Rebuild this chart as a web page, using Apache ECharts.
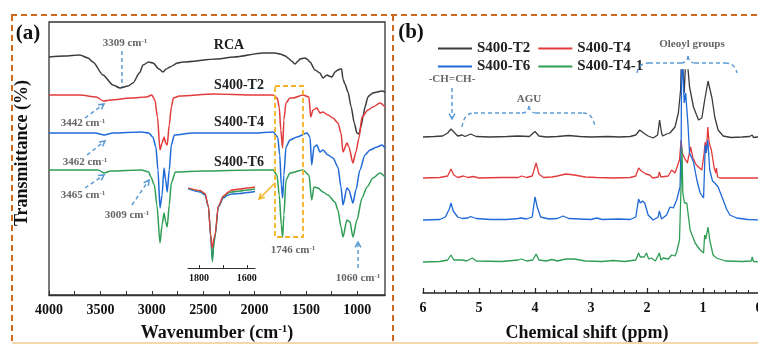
<!DOCTYPE html>
<html lang="en" style="height: 100%">
<head>
<meta charset="utf-8">
<title>FTIR and NMR spectra</title>
</head>
<body style="height: 100%; margin: 0">
<div id="container" style="width: 758px; height: 345px"></div>
<script type="text/javascript" src="https://cdn.jsdelivr.net/npm/echarts/dist/echarts.min.js"></script>
<script type="text/javascript">
// ---- panel (a): FTIR, [wavenumber, offset transmittance] ----
var ftirRCA = [[4000,238],[3850,239],[3700,240],[3620,237],[3572,233],[3475,220],[3377,210],[3309,207],[3230,209],[3183,212],[3120,222],[3085,230],[3030,233],[2988,232],[2930,226],[2891,223],[2860,226],[2823,228],[2750,232],[2696,233],[2366,236],[2200,238],[1918,242],[1800,242],[1753,241],[1700,239],[1675,237],[1640,234],[1607,231],[1575,234],[1558,236],[1510,237],[1490,236],[1461,233],[1412,225],[1364,222],[1335,217],[1296,220],[1276,219],[1247,218],[1218,223],[1189,225],[1165,226],[1153,226],[1140,216],[1121,211],[1091,203],[1060,188],[1030,172],[1004,162],[985,161],[965,168],[945,178],[926,188],[897,198],[877,200],[848,202],[809,203],[760,204],[731,203]];
var ftirT2 = [[4000,200],[3700,200],[3540,198],[3470,194],[3400,195],[3200,197],[3050,198],[3000,200],[2970,195],[2945,178],[2920,145],[2900,152],[2880,158],[2865,152],[2850,150],[2830,170],[2810,188],[2790,197],[2730,199],[2400,201],[2000,200],[1820,200],[1780,197],[1760,188],[1745,165],[1727,147],[1715,175],[1694,192],[1656,197],[1626,197],[1529,200],[1471,198],[1454,178],[1432,185],[1393,187],[1364,182],[1335,183],[1286,180],[1237,177],[1189,172],[1159,162],[1140,143],[1101,152],[1082,148],[1043,132],[1014,143],[984,157],[955,178],[897,185],[848,188],[780,192],[731,188]];
var ftirT4 = [[4000,162],[3550,162],[3462,160],[3380,162],[3100,163],[3030,162],[2990,158],[2960,148],[2940,125],[2920,87],[2900,100],[2881,127],[2865,115],[2850,103],[2830,125],[2810,150],[2780,160],[2600,162],[2000,162],[1820,163],[1775,158],[1755,140],[1740,110],[1727,97],[1715,120],[1694,148],[1656,155],[1587,158],[1490,162],[1461,158],[1444,130],[1422,148],[1393,150],[1364,143],[1335,145],[1286,140],[1237,137],[1189,128],[1159,108],[1140,90],[1101,107],[1082,105],[1043,92],[1014,105],[975,125],[926,140],[877,145],[809,148],[760,150],[731,147]];
var ftirT6 = [[4000,125],[3520,125],[3465,122],[3400,124],[3100,125],[3030,123],[3009,118],[2975,110],[2950,90],[2920,52],[2900,70],[2881,82],[2865,73],[2850,68],[2830,90],[2810,112],[2770,123],[2500,124],[2000,125],[1820,125],[1782,120],[1760,100],[1740,70],[1727,58],[1715,80],[1694,115],[1656,122],[1529,125],[1471,120],[1444,95],[1422,108],[1383,107],[1335,103],[1286,100],[1218,93],[1189,85],[1159,68],[1140,58],[1101,75],[1072,73],[1043,58],[1004,75],[955,97],[906,108],[848,117],[780,122],[731,118]];
var ftirTicks = [1000,1250,1500,1750,2000,2250,2500,2750,3000,3250,3500,3750,4000];
var ftirLabels = [1000,1500,2000,2500,3000,3500,4000];

// inset around 1746 cm-1
var insetT2 = [[1845,80],[1796,77.5],[1775,74.5],[1761,62],[1751,33],[1745,20],[1737,30],[1733,34],[1719,62],[1698,72],[1677,76],[1663,78],[1628,79],[1600,80],[1566,81]];
var insetT4 = [[1845,79],[1796,76],[1775,73],[1761,61],[1751,31],[1745,9],[1737,26],[1733,32],[1719,61],[1698,70],[1677,73],[1663,74],[1628,74.5],[1600,75.5],[1566,76.5]];
var insetT6 = [[1845,80],[1796,77],[1775,74],[1761,62],[1751,32],[1744,6],[1737,25],[1733,32],[1719,62],[1698,71],[1677,75],[1663,76],[1628,77],[1600,78],[1566,79]];
var insetTicks = [1600,1700,1800];
var insetLabels = [1600,1800];

// ---- panel (b): 1H NMR, [ppm, offset intensity] ----
var nmrT2 = [[6.0,156],[5.8,156.5],[5.65,157],[5.56,160],[5.5,164],[5.45,161],[5.38,157],[5.3,158],[5.25,156.5],[5.15,159],[5.05,156.5],[4.8,156],[4.5,156.5],[4.3,157],[4.1,156.5],[4.0,161.5],[3.93,157],[3.8,156],[3.6,156.5],[3.4,157.5],[3.2,156.5],[3.0,156],[2.7,156.5],[2.5,156],[2.3,156.5],[2.2,158],[2.13,163],[2.06,160],[1.98,157],[1.89,155],[1.81,158],[1.775,173],[1.74,160],[1.72,157],[1.65,159],[1.59,160],[1.5,166],[1.44,180],[1.4,203],[1.38,245],[1.36,245],[1.335,200],[1.3,245],[1.28,245],[1.24,206],[1.17,186],[1.08,173],[1.02,175],[0.97,193],[0.91,212],[0.84,195],[0.79,176],[0.73,163],[0.64,157],[0.5,155.5],[0.3,156],[0.17,156.5],[0.12,158],[0.1,155.5],[0.03,156],[0,156]];
var nmrT4 = [[6.0,115],[5.7,115.5],[5.56,117],[5.5,124],[5.45,118],[5.38,115.5],[5.28,117],[5.2,115.5],[5.1,116.5],[5.0,115],[4.6,115.5],[4.3,115.5],[4.24,117],[4.15,115.5],[4.05,117],[3.98,130],[3.93,119],[3.85,115.5],[3.7,116],[3.6,117],[3.45,119],[3.3,118],[3.1,116],[2.9,115.5],[2.6,115],[2.3,115.5],[2.2,117],[2.15,125],[2.1,122],[2.07,121],[2.02,119],[1.95,118],[1.9,115],[1.8,116],[1.78,121],[1.75,116],[1.72,115],[1.62,117],[1.56,123],[1.5,120],[1.47,120],[1.42,133],[1.39,153],[1.37,140],[1.33,135],[1.28,130],[1.22,146],[1.18,135],[1.12,128],[1.06,125],[1.02,123],[0.98,140],[0.96,151],[0.94,140],[0.915,166],[0.89,150],[0.85,143],[0.8,125],[0.77,120],[0.76,125],[0.74,116],[0.7,115],[0.4,115],[0,115]];
var nmrT6 = [[6.0,73],[5.7,73.5],[5.6,76],[5.53,84],[5.5,90],[5.46,82],[5.38,76],[5.3,74.5],[5.2,75],[5.15,76.5],[5.05,74.5],[4.8,73.5],[4.5,73.5],[4.3,74.5],[4.25,75],[4.15,74],[4.05,76],[4.0,96],[3.96,86],[3.9,76],[3.75,74],[3.6,74.5],[3.5,77],[3.4,74.5],[3.2,74],[3.0,73.5],[2.9,75],[2.8,73.5],[2.5,74],[2.3,73.5],[2.2,76],[2.15,94],[2.12,90],[2.08,92],[2.04,90],[1.98,78],[1.89,73],[1.8,76],[1.78,82],[1.74,74],[1.72,73],[1.65,78],[1.59,86],[1.53,85],[1.47,93],[1.41,106],[1.39,150],[1.38,245],[1.36,245],[1.335,190],[1.31,200],[1.27,170],[1.24,140],[1.2,135],[1.17,131],[1.11,113],[1.05,100],[0.99,95],[0.975,120],[0.96,148],[0.945,140],[0.915,153],[0.88,123],[0.83,112],[0.79,110],[0.73,106],[0.64,93],[0.58,84],[0.52,78],[0.4,75],[0.2,73.5],[0,73]];
var nmrT41 = [[6.0,31],[5.7,31.5],[5.56,33],[5.5,38],[5.45,33],[5.3,33],[5.22,32],[5.12,35],[5.05,32],[4.6,31.5],[4.3,33],[4.24,34],[4.15,32],[4.04,33],[3.98,39],[3.93,33],[3.8,32],[3.7,33.5],[3.6,32],[3.45,34],[3.3,34],[3.1,32],[2.8,31.5],[2.6,32.5],[2.4,31.5],[2.2,33],[2.15,40],[2.12,36],[2.1,38],[2.05,36],[2.01,40],[1.97,34],[1.92,35],[1.85,32],[1.78,40],[1.75,33],[1.71,35],[1.62,34],[1.56,38],[1.5,37],[1.47,41],[1.42,53],[1.39,110],[1.375,145],[1.36,100],[1.33,90],[1.31,88],[1.29,90],[1.23,63],[1.14,50],[1.05,43],[0.99,40],[0.97,58],[0.95,54],[0.91,66],[0.88,53],[0.82,38],[0.76,35],[0.6,32],[0.3,31.5],[0.14,32],[0.12,36],[0.1,31.5],[0,31]];

var cBlack = '#3c3c3c', cRed = '#e23b3b', cBlue = '#1f6ad8', cGreen = '#2f9e55';
var cNote = '#5b9bd5', cGray = '#666', cYellow = '#f4b324', cBorder = '#cf6a1e';
var serif = "'Liberation Serif', 'Times New Roman', serif";

var dom = document.getElementById('container');
var myChart = echarts.init(dom);

function txt(x, y, s, size, color, rot) {
    return {
        type: 'text', x: x, y: y, z: 100, rotation: rot || 0,
        style: {
            text: s, fontFamily: serif, fontWeight: 'bold', fontSize: size, fill: color,
            align: 'center', verticalAlign: 'middle',
            rich: { s: { fontFamily: serif, fontWeight: 'bold', fontSize: Math.round(size * 0.62), fill: color, verticalAlign: 'top' } }
        }
    };
}
function seg(x1, y1, x2, y2, color, dash, w) {
    return { type: 'line', z: 90, shape: { x1: x1, y1: y1, x2: x2, y2: y2 },
        style: { stroke: color, lineWidth: w || 1.5, lineDash: dash || null } };
}
function arrow(x1, y1, x2, y2, color, dash) {
    var a = Math.atan2(y2 - y1, x2 - x1), L = 6, s = 0.5;
    var head = { type: 'polyline', z: 90, shape: { points: [
        [x2 - L * Math.cos(a - s), y2 - L * Math.sin(a - s)], [x2, y2],
        [x2 - L * Math.cos(a + s), y2 - L * Math.sin(a + s)]] },
        style: { stroke: color, lineWidth: 1.5, fill: null } };
    return [seg(x1, y1, x2, y2, color, dash), head];
}
// curly bracket drawn as quadratic pieces
function brace(x1, x2, yEnd, yTop, xMid) {
    var st = { stroke: cNote, lineWidth: 1.4, lineDash: [4, 3], fill: null };
    var yLine = yTop + 7;
    function q(a, b, c, d, e, f) {
        return { type: 'bezierCurve', z: 90, shape: { x1: a, y1: b, cpx1: c, cpy1: d, x2: e, y2: f }, style: st };
    }
    return [
        q(x1, yEnd, x1 + 2, yLine, x1 + 12, yLine),
        seg(x1 + 12, yLine, xMid - 7, yLine, cNote, [4, 3], 1.4),
        q(xMid - 7, yLine, xMid - 1, yLine, xMid, yTop),
        q(xMid, yTop, xMid + 1, yLine, xMid + 7, yLine),
        seg(xMid + 7, yLine, x2 - 12, yLine, cNote, [4, 3], 1.4),
        q(x2 - 12, yLine, x2 - 2, yLine, x2, yEnd)
    ];
}

var D = [6, 4];
var graphics = [
    // dashed frames
    seg(11, 15, 758, 15, cBorder, D, 2),
    seg(12, 15, 12, 345, cBorder, D, 2),
    seg(393, 15, 393, 345, cBorder, D, 2),
    seg(12, 343, 758, 343, '#f3c98f', null, 1.5),
    // panel labels
    txt(28, 34, '(a)', 21, '#111'), txt(411, 33, '(b)', 21, '#111'),
    // axis titles
    txt(22, 153, 'Transmittance (%)', 18, '#111', Math.PI / 2),
    txt(217, 333, 'Wavenumber (cm{s|-1})', 18, '#111'),
    txt(587, 333, 'Chemical shift (ppm)', 18, '#111'),
    // panel (a) notes
    txt(229, 45, 'RCA', 14, '#222'),
    txt(239, 85, 'S400-T2', 14, '#222'),
    txt(239, 122, 'S400-T4', 14, '#222'),
    txt(239, 162, 'S400-T6', 14, '#222'),
    txt(125, 43, '3309 cm{s|-1}', 11, cGray),
    seg(122, 51, 122, 87, cNote, [4, 3]),
    txt(83, 123, '3442 cm{s|-1}', 11, cGray),
    txt(85, 162, '3462 cm{s|-1}', 11, cGray),
    txt(83, 195, '3465 cm{s|-1}', 11, cGray),
    txt(127, 215, '3009 cm{s|-1}', 11, cGray),
    txt(293, 250, '1746 cm{s|-1}', 11, cGray),
    txt(358, 278, '1060 cm{s|-1}', 11, cGray),
    { type: 'rect', z: 90, shape: { x: 275, y: 86, width: 28, height: 151 },
      style: { stroke: cYellow, lineWidth: 1.8, lineDash: [5, 3], fill: null } },
    // panel (b) notes
    txt(452, 79, '-CH=CH-', 11, cGray),
    txt(529, 99, 'AGU', 11, cGray),
    txt(692, 44, 'Oleoyl groups', 11, cGray)
].concat(
    brace(462, 595, 127, 106, 529),
    brace(637, 737, 73, 56, 688),
    arrow(85, 118, 104, 104, cNote, [4, 3]),
    arrow(87, 155, 105, 141, cNote, [4, 3]),
    arrow(85, 188, 104, 175, cNote, [4, 3]),
    arrow(132, 205, 149, 180, cNote, [4, 3]),
    arrow(358, 268, 358, 242, cNote, [4, 3]),
    arrow(452, 88, 452, 119, cNote, [4, 3]),
    arrow(275, 183, 259, 199, cYellow, null)
);

function line(name, data, color, xi, w, smooth) {
    return { name: name, type: 'line', data: data, xAxisIndex: xi, yAxisIndex: xi,
        symbol: 'none', showSymbol: false, clip: true, animation: false,
        smooth: smooth || false, smoothMonotone: 'x',
        lineStyle: { color: color, width: w || 1.5 }, itemStyle: { color: color } };
}

var axisFont = { fontFamily: serif, fontWeight: 'bold', color: '#111' };
function plain(v) { return String(v); }

var option = {
    backgroundColor: '#fff',
    animation: false,
    grid: [
        { left: 49, top: 22, width: 336, height: 273, show: true, borderColor: '#333', borderWidth: 1.3, outerBoundsMode: 'none' },
        { left: 188, top: 185, width: 67, height: 83, outerBoundsMode: 'none' },
        { left: 423, top: 70, width: 336, height: 223, outerBoundsMode: 'none' }
    ],
    xAxis: [
        { gridIndex: 0, type: 'value', inverse: true, min: 731, max: 4000,
          axisLine: { lineStyle: { color: '#333', width: 1.3 } },
          axisTick: { inside: true, length: 4, customValues: ftirTicks, lineStyle: { color: '#333' } },
          axisLabel: Object.assign({ fontSize: 14, margin: 8, customValues: ftirLabels, formatter: plain }, axisFont),
          splitLine: { show: false } },
        { gridIndex: 1, type: 'value', inverse: true, min: 1566, max: 1846,
          axisLine: { lineStyle: { color: '#333', width: 1.2 } },
          axisTick: { inside: true, length: 3, customValues: insetTicks, lineStyle: { color: '#333' } },
          axisLabel: Object.assign({ fontSize: 10, margin: 5, customValues: insetLabels, formatter: plain }, axisFont),
          splitLine: { show: false } },
        { gridIndex: 2, type: 'value', inverse: true, min: 0, max: 6, interval: 1,
          axisLine: { lineStyle: { color: '#222', width: 1.5 } },
          axisTick: { inside: true, length: 5, lineStyle: { color: '#222', width: 1.2 } },
          minorTick: { show: true, splitNumber: 5, length: 3, lineStyle: { color: '#222' } },
          axisLabel: Object.assign({ fontSize: 14, margin: 8, showMaxLabel: true, showMinLabel: true, formatter: plain }, axisFont),
          splitLine: { show: false } }
    ],
    yAxis: [
        { gridIndex: 0, type: 'value', min: 0, max: 273, show: false },
        { gridIndex: 1, type: 'value', min: 0, max: 83, show: false },
        { gridIndex: 2, type: 'value', min: 0, max: 223, show: false }
    ],
    legend: [
        { data: ['S400-T2', 'S400-T4'], left: 433, top: 36, icon: 'rect', itemWidth: 34, itemHeight: 2,
          itemGap: 8, textStyle: { fontFamily: serif, fontWeight: 'bold', fontSize: 15, color: '#222' } },
        { data: ['S400-T6', 'S400-T4-1'], left: 433, top: 54, icon: 'rect', itemWidth: 34, itemHeight: 2,
          itemGap: 8, textStyle: { fontFamily: serif, fontWeight: 'bold', fontSize: 15, color: '#222' } }
    ],
    series: [
        line('RCA', ftirRCA, cBlack, 0, 1.5, 0.25),
        line('FTIR S400-T2', ftirT2, cRed, 0, 1.5, 0.25),
        line('FTIR S400-T4', ftirT4, cBlue, 0, 1.5, 0.25),
        line('FTIR S400-T6', ftirT6, cGreen, 0, 1.5, 0.25),
        line('inset S400-T4', insetT4, cBlue, 1, 1.3, 0.3),
        line('inset S400-T6', insetT6, cGreen, 1, 1.3, 0.3),
        line('inset S400-T2', insetT2, cRed, 1, 1.3, 0.3),
        line('S400-T2', nmrT2, cBlack, 2, 1.3),
        line('S400-T4', nmrT4, cRed, 2, 1.3),
        line('S400-T6', nmrT6, cBlue, 2, 1.3),
        line('S400-T4-1', nmrT41, cGreen, 2, 1.3)
    ],
    graphic: graphics
};

if (option && typeof option === 'object') {
    myChart.setOption(option);
}
window.addEventListener('resize', myChart.resize);
</script>
</body>
</html>
